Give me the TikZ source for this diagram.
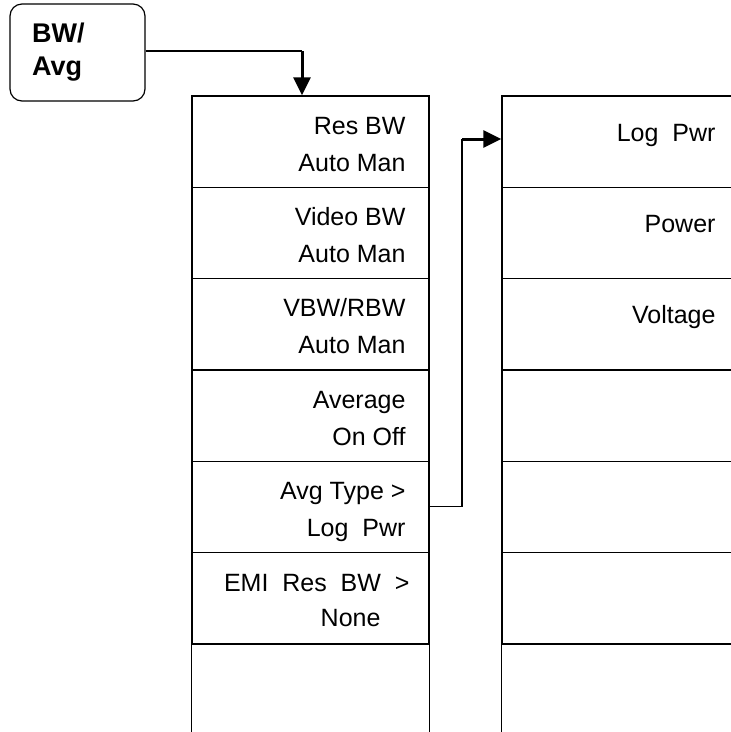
\documentclass[tikz,border=0pt]{standalone}
\usepackage{fontspec}
\setmainfont{Liberation Sans}
\usetikzlibrary{arrows.meta, positioning, calc}

\begin{document}
\begin{tikzpicture}[x=1pt, y=-1pt,
    >={Triangle[length=18pt, width=17pt]},
    wire/.style={line width=1.2pt},
    feed/.style={line width=3pt, ->},
    cell/.style={draw, line width=1.4pt, minimum width=237pt, minimum height=91.3pt, inner sep=0pt},
    key/.style={draw, line width=1.2pt, rounded corners=12pt, minimum width=135pt, minimum height=97pt},
    lbl/.style={font=\fontsize{25}{37}\selectfont, align=right, inner sep=0pt, anchor=base east},
    keylbl/.style={font=\fontsize{27}{33}\selectfont\bfseries, align=left, inner sep=0pt, anchor=base west},
]
\useasboundingbox (0,0) rectangle (731,732);
\clip (0,0) rectangle (731,732);

% Key
\node[key] (key) at (77.5,52.5) {};
\node[keylbl] (keytxt) at (32,75) {BW/\\Avg};

% --- Left menu
\foreach \i in {1,...,6}
  \node[cell] (L\i) at (310.5,{96+91.3*(\i-0.5)}) {};
\draw[wire] (L6.south west) -- ++(0,90) (L6.south east) -- ++(0,90);

\foreach \i/\txt in {1/{Res BW\\Auto Man}, 2/{Video BW\\Auto Man}, 3/{VBW/RBW\\Auto Man},
                     4/{Average\\On Off}, 5/{Avg Type >\\Log\ \ Pwr}}
  \node[lbl] (L\i txt) at ($(L\i.north east)+(-24,76)$) {\txt};
\node[lbl] (L6txt) at ($(L6.north east)+(-20,40)$) {EMI\ \ Res\ \ BW\ \ >};
\node[lbl] (L6sub) at ($(L6.north east)+(-49,75)$) {None};

% --- Right menu
\foreach \i in {1,...,6}
  \node[cell] (R\i) at (620.5,{96+91.3*(\i-0.5)}) {};
\draw[wire] (R6.south west) -- ++(0,90);

\foreach \i/\txt in {1/Log\ \ Pwr, 2/Power, 3/Voltage}
  \node[lbl] (R\i txt) at ($(R\i.north east)+(-24,46)$) {\txt};

% Key -> left menu
\coordinate (drop) at (302,51);
\draw[wire] (key.east |- drop) -- (drop);
\draw[feed] (drop) -- (drop |- L1.north);

% Avg Type -> right menu
\coordinate (bend) at (462,139);
\draw[wire] (L5.east) -| (bend);
\draw[feed] (bend) -- (bend -| R1.west);

\end{tikzpicture}
\end{document}
